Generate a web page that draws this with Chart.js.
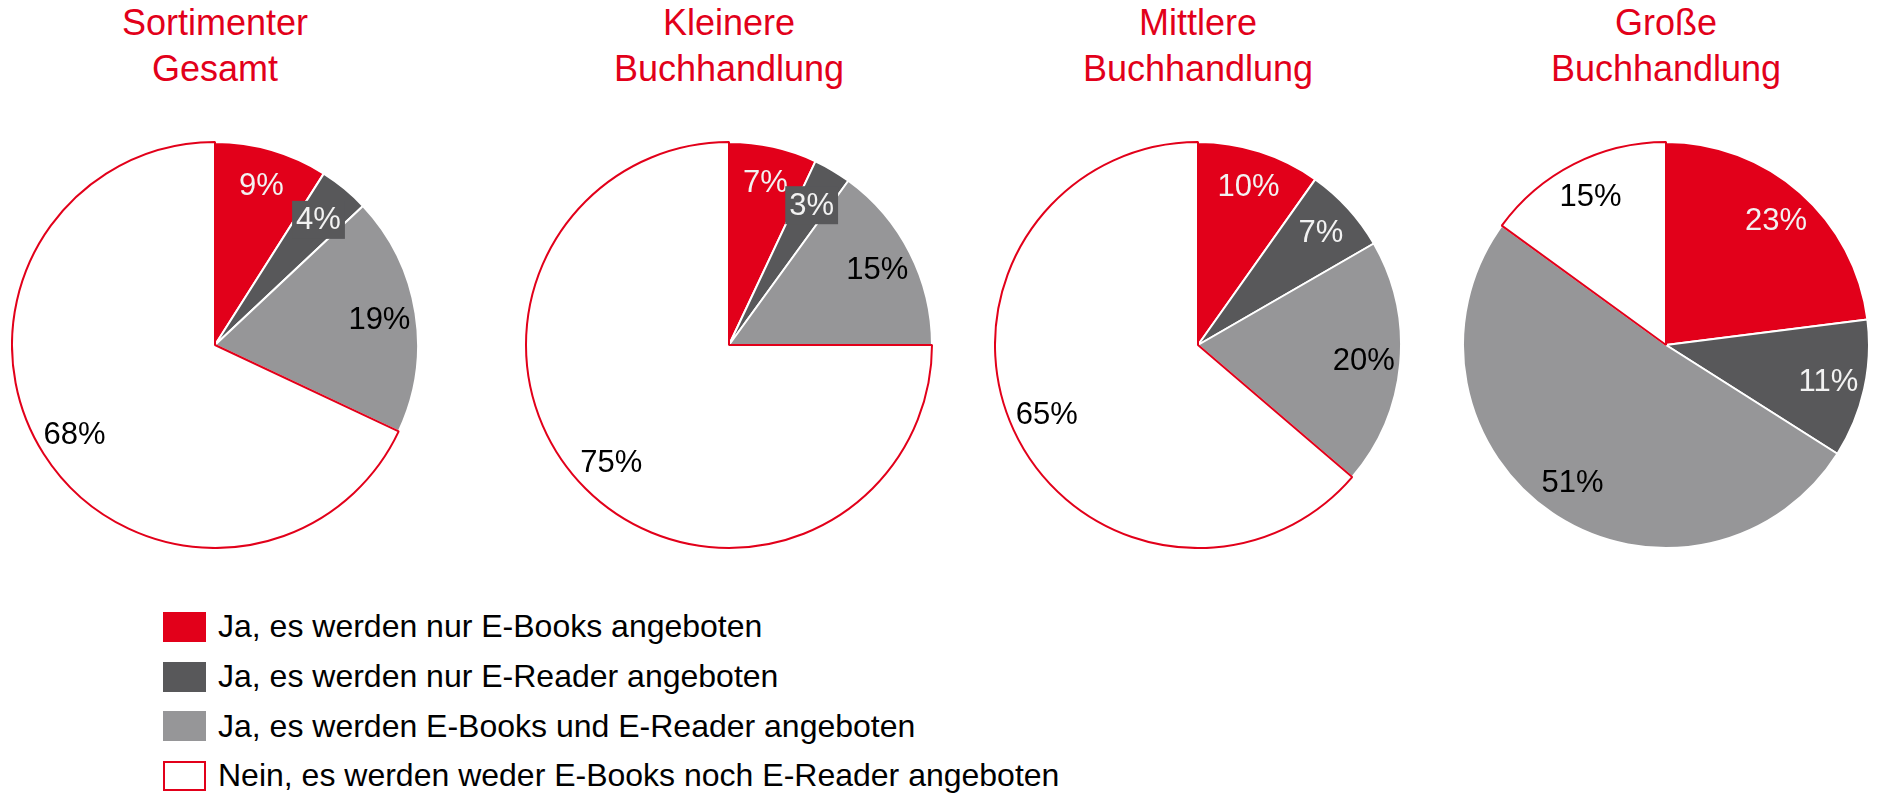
<!DOCTYPE html>
<html lang="de">
<head>
<meta charset="utf-8">
<title>E-Books und E-Reader im Sortiment</title>
<script src="https://cdn.jsdelivr.net/npm/chart.js@4/dist/chart.umd.min.js"></script>
<style>
    html, body {
        margin: 0;
        padding: 0;
        background: #fff;
    }
    body {
        position: relative;
        width: 1877px;
        height: 794px;
        overflow: hidden;
        font-family: "Liberation Sans", Arial, sans-serif;
    }
    .title {
        position: absolute;
        top: 0;
        width: 400px;
        text-align: center;
        color: #E2001A;
        font-size: 36px;
        line-height: 46px;
    }
    .pie {
        position: absolute;
        top: 141px;
        width: 408px;
        height: 408px;
    }
    .legend {
        position: absolute;
        left: 163px;
        top: 602px;
    }
    .legend-row {
        display: flex;
        align-items: center;
        height: 49.7px;
        font-size: 32px;
        color: #000;
    }
    .legend-box {
        box-sizing: border-box;
        width: 43px;
        height: 30px;
        margin-right: 12px;
    }
</style>
</head>
<body>
<div class="legend"></div>

<script>
// Data
const categories = [
    "Ja, es werden nur E-Books angeboten",
    "Ja, es werden nur E-Reader angeboten",
    "Ja, es werden E-Books und E-Reader angeboten",
    "Nein, es werden weder E-Books noch E-Reader angeboten"
];
const groupTitles = [
    ["Sortimenter", "Gesamt"],
    ["Kleinere", "Buchhandlung"],
    ["Mittlere", "Buchhandlung"],
    ["Große", "Buchhandlung"]
];
const gesamtValues = [9, 4, 19, 68];
const kleinereValues = [7, 3, 15, 75];
const mittlereValues = [10, 7, 20, 65];
const grosseValues = [23, 11, 51, 15];
const groupValues = [gesamtValues, kleinereValues, mittlereValues, grosseValues];

// Styles
const sliceColors = ["#E2001A", "#58585A", "#969698", "#FFFFFF"];
const sliceBorders = ["#FFFFFF", "#FFFFFF", "#FFFFFF", "#E2001A"];
const labelColors = ["#F2F2F2", "#F2F2F2", "#000000", "#000000"];
const pieCenters = [215, 729, 1198, 1666];

// Percent labels inside the slices, small slices get a box
const sliceLabels = {
    id: "sliceLabels",
    afterDatasetsDraw(chart) {
        const ctx = chart.ctx;
        const ds = chart.data.datasets[0];
        const meta = chart.getDatasetMeta(0);
        meta.data.forEach((arc, i) => {
            const p = arc.getProps(["x", "y", "startAngle", "endAngle", "outerRadius"], true);
            const mid = (p.startAngle + p.endAngle) / 2;
            const small = ds.data[i] < 5;
            const d = p.outerRadius * (small ? 0.8 : 0.82);
            const lx = p.x + Math.cos(mid) * d;
            const ly = p.y + Math.sin(mid) * d;
            const text = ds.data[i] + "%";
            ctx.save();
            ctx.font = '31px "Liberation Sans", Arial, sans-serif';
            ctx.textAlign = "center";
            ctx.textBaseline = "middle";
            if (small) {
                const w = ctx.measureText(text).width + 8;
                ctx.fillStyle = ds.backgroundColor[i];
                ctx.fillRect(lx - w / 2, ly - 19, w, 38);
            }
            ctx.fillStyle = labelColors[i];
            ctx.fillText(text, lx, ly + 1);
            ctx.restore();
        });
    }
};

function renderTitle(lines, cx) {
    const $title = document.createElement("div");
    $title.className = "title";
    $title.style.left = (cx - 200) + "px";
    $title.innerHTML = lines.join("<br>");
    document.body.appendChild($title);
}

function renderPie(values, cx) {
    const $box = document.createElement("div");
    $box.className = "pie";
    $box.style.left = (cx - 204) + "px";
    const $canvas = document.createElement("canvas");
    $box.appendChild($canvas);
    document.body.appendChild($box);

    new Chart($canvas, {
        type: "pie",
        data: {
            labels: categories,
            datasets: [{
                data: values,
                backgroundColor: sliceColors,
                borderColor: sliceBorders,
                borderWidth: 2
            }]
        },
        options: {
            responsive: true,
            maintainAspectRatio: false,
            animation: false,
            layout: { padding: 0 },
            plugins: {
                legend: { display: false },
                tooltip: { enabled: false }
            }
        },
        plugins: [sliceLabels]
    });
}

function renderLegend() {
    const $legend = document.querySelector(".legend");
    categories.forEach((label, i) => {
        const $row = document.createElement("div");
        $row.className = "legend-row";
        const $sw = document.createElement("span");
        $sw.className = "legend-box";
        $sw.style.background = sliceColors[i];
        if (sliceColors[i] === "#FFFFFF") {
            $sw.style.border = "2px solid #E2001A";
        }
        const $txt = document.createElement("span");
        $txt.textContent = label;
        $row.appendChild($sw);
        $row.appendChild($txt);
        $legend.appendChild($row);
    });
}

groupValues.forEach((values, i) => {
    renderTitle(groupTitles[i], pieCenters[i]);
    renderPie(values, pieCenters[i]);
});
renderLegend();
</script>
</body>
</html>
